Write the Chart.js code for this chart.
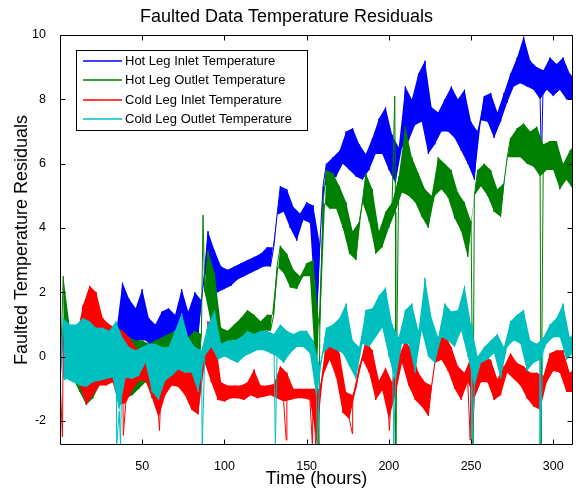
<!DOCTYPE html>
<html>
<head>
<meta charset="utf-8">
<script src="https://cdn.jsdelivr.net/npm/chart.js@4.4.1/dist/chart.umd.min.js"></script>
<style>
  body { margin: 0; background: #fff; }
  canvas { display: block; }
</style>
</head>
<body>
<canvas id="Chart" width="580" height="492"></canvas>
<script>
// sample times (hours); each sample holds the low and high edge of the noisy trace
const hours = [0, 4, 8, 12, 16, 20, 24, 28, 32, 36, 40, 44, 48, 52, 56, 60, 64, 68, 72, 76,
    80, 84, 88, 92, 96, 100, 104, 108, 112, 116, 120, 124, 128, 132, 136, 140, 144, 148, 152, 156,
    160, 164, 168, 172, 176, 180, 184, 188, 192, 196, 200, 204, 208, 212, 216, 220, 224, 228, 232, 236,
    240, 244, 248, 252, 256, 260, 264, 268, 272, 276, 280, 284, 288, 292, 296, 300, 304, 308, 312];

const hotInLo = [-0.8, -0.5, -0.6, -0.7, -0.8, -0.6, -0.5, -0.6, -0.5, -0.3,
    0.2, 0.3, 0.5, 0.5, 0.3, 0.5, 0.4, 0.6, 0.8, 0.5,
    0.6, 0.7, 2.6, 2.0, 2.0, 2.1, 2.2, 2.4, 2.5, 2.6,
    2.7, 2.8, 2.8, 4.4, 4.5, 4.0, 3.6, 4.25, 4.15, 1.0,
    5.3, 5.4, 5.6, 6.0, 5.8, 5.6, 5.5, 5.8, 6.3, 6.3,
    5.8, 5.4, 6.5, 6.7, 7.2, 7.3, 6.3, 6.6, 7.0, 7.0,
    6.8, 6.4, 6.0, 5.5, 7.35, 7.3, 6.8, 7.3, 7.9, 8.4,
    8.5, 8.4, 8.3, 8.0, 8.3, 8.1, 8.3, 8.0, 8.0];
const hotInHi = [0.9, 0.7, 0.6, 0.8, 0.9, 0.6, 0.6, 0.5, 0.7, 2.3,
    1.8, 1.5, 2.1, 1.2, 1.0, 1.4, 1.5, 1.3, 2.1, 1.4,
    2.0, 1.75, 3.9, 3.3, 2.8, 2.7, 2.8, 2.9, 3.0, 3.1,
    3.2, 3.4, 3.4, 5.3, 5.2, 4.65, 4.45, 4.8, 4.7, 3.5,
    6.0, 6.2, 6.4, 7.0, 7.1, 6.6, 6.3, 6.8, 7.4, 7.75,
    6.9, 6.5, 8.4, 8.0, 8.8, 9.2, 7.75, 7.6, 8.0, 8.4,
    8.0, 8.3, 7.3, 7.0, 8.1, 8.2, 7.6, 8.2, 8.8, 9.3,
    9.95, 9.2, 9.0, 8.9, 9.3, 9.1, 9.3, 8.8, 8.6];
const hotInSpikes = [[292.8, 6.0]];

const hotOutLo = [-0.8, -0.6, -0.7, -1.1, -1.5, -1.3, -0.9, -0.8, -0.7, -1.0,
    -1.3, -1.2, -1.0, -0.8, -1.0, -0.8, -0.7, -0.5, -0.6, -0.4,
    -0.5, -0.6, 2.0, 1.0, 0.3, 0.4, 0.5, 0.5, 0.4, 0.7,
    0.6, 0.8, 0.8, 2.8, 2.6, 2.15, 2.1, 2.5, 2.5, -0.9,
    4.8, 4.6, 4.6, 4.0, 3.2, 3.0, 4.8, 4.2, 3.2, 3.4,
    4.0, 4.5, 5.1, 5.0, 4.8, 4.35, 4.0, 5.0, 5.2, 4.95,
    4.3, 3.9, 3.1, 5.0, 5.3, 5.0, 4.5, 4.35, 6.2, 6.2,
    6.2, 6.0, 5.9, 5.6, 5.8, 5.8, 5.2, 5.5, 5.2];
const hotOutHi = [2.5, 0.9, 0.8, 0.8, 0.6, 0.6, 0.7, 0.6, 0.8, 0.8,
    0.6, 0.5, 0.5, 0.4, 0.5, 0.6, 0.7, 0.8, 0.7, 0.6,
    0.8, 0.7, 3.3, 2.6, 0.9, 0.8, 1.0, 1.2, 1.45, 1.3,
    1.1, 1.3, 1.3, 3.45, 3.2, 2.7, 2.5, 2.9, 3.0, 0.8,
    5.8, 5.7, 5.3, 4.8, 3.9, 4.2, 5.7, 5.2, 3.9, 4.5,
    4.8, 5.6, 7.15, 6.2, 5.7, 5.2, 5.0, 6.2, 6.0, 5.8,
    5.1, 4.8, 4.2, 5.8, 6.0, 5.8, 5.2, 5.4, 6.8, 7.1,
    7.25, 7.0, 7.15, 6.6, 6.7, 6.7, 6.0, 6.4, 6.65];
const hotOutSpikes = [[87, 4.4], [157.5, -2.75], [203.6, 8.1], [204.2, -2.75], [251.2, -2.75], [292.6, -2.75]];

const coldInLo = [-0.7, -0.6, -0.7, -0.9, -1.5, -1.2, -0.9, -0.9, -0.8, -1.5,
    -1.45, -1.05, -0.75, -0.75, -1.3, -1.9, -1.2, -0.9, -0.95, -1.2,
    -1.65, -1.8, -0.2, -0.8, -1.35, -1.4, -1.3, -1.3, -1.35, -1.2,
    -1.3, -1.25, -1.2, -1.3, -1.4, -1.35, -1.3, -1.3, -1.35, -2.6,
    -0.6, -0.1, -0.65, -1.75, -1.95, -1.0, -0.1, -0.5, -1.35, -1.05,
    -1.95, -1.2, -0.2, -0.9, -1.35, -1.55, -1.85, -0.2, -0.1, -0.45,
    -1.0, -1.35, -0.8, -1.3, -0.8, -0.8, -1.35, -1.2, -0.5, -0.7,
    -0.9, -1.3, -1.55, -1.65, -0.8, -0.45, -0.5, -1.1, -1.1];
const coldInHi = [1.0, 0.5, 0.6, 1.6, 2.2, 2.0, 1.2, 1.0, 0.9, 0.8,
    0.6, 0.3, 0.1, -0.1, 0.0, -0.2, 0.0, -0.1, 0.2, -0.2,
    -0.3, -0.3, 1.1, 0.7, -0.8, -0.9, -0.9, -0.9, -0.8, -0.4,
    -0.9, -0.9, -0.85, -0.3, -0.5, -1.0, -1.0, -1.0, -1.0, -1.0,
    0.5, 0.6, 0.1, -1.1, -1.2, -0.3, 0.5, 0.2, -0.75, -0.35,
    -0.8, 0.0, 0.5, 0.2, -0.5, -0.8, -0.9, 0.6, 0.7, 0.3,
    -0.3, -0.5, 0.0, -0.3, 0.0, -0.1, -0.7, -0.3, 0.1, -0.2,
    -0.3, -0.5, -0.5, -0.6, 0.1, 0.2, 0.2, -0.5, -0.35];
const coldInSpikes = [[1.5, -2.5], [38.5, -2.45], [60.5, -2.3], [137.6, -2.6], [153.5, -2.75], [155.5, -2.75],
    [177.8, -2.4], [200.3, -2.3], [249.5, -2.6], [250.5, -2.75]];

const coldOutLo = [-0.8, -0.7, -0.8, -0.9, -0.95, -0.8, -0.75, -0.7, -0.65, -1.7,
    -0.65, -0.7, -0.6, -0.2, -1.1, -1.35, -0.75, -0.6, -0.4, -0.5,
    -0.5, -1.1, 0.0, 0.3, -0.1, 0.0, -0.1, -0.2, 0.0, 0.1,
    0.2, 0.2, 0.1, 0.0, -0.2, 0.1, 0.3, 0.3, 0.1, -1.3,
    0.1, 0.3, 0.2, 0.1, -0.3, -0.7, 0.4, 0.3, 0.6, 0.9,
    0.0, -0.8, 0.4, 0.4, -0.5, 0.8, 0.0, -0.2, 0.6, 0.5,
    0.3, 0.8, 0.0, -0.95, -0.2, -0.1, 0.1, -0.7, 0.3, 0.5,
    0.4, -0.45, -0.2, -0.1, 0.4, 0.6, 0.6, -0.1, 0.1];
const coldOutHi = [1.2, 1.0, 1.0, 1.2, 1.1, 0.9, 0.9, 0.8, 1.1, 0.6,
    0.3, 0.2, 0.3, 0.4, 0.4, 0.3, 0.3, 0.8, 1.35, 0.6,
    0.3, 0.2, 1.0, 1.45, 0.4, 0.5, 0.5, 0.6, 0.8, 0.7,
    0.8, 0.8, 0.7, 1.0, 0.8, 0.7, 0.8, 0.8, 0.5, -0.3,
    0.9, 1.0, 1.2, 1.65, 0.5, 0.3, 1.45, 1.5, 1.9, 2.15,
    1.0, 0.6, 1.45, 1.65, 0.8, 2.45, 1.2, 0.6, 1.65, 1.4,
    1.45, 2.2, 1.0, 0.0, 0.3, 0.5, 0.7, 0.3, 1.1, 1.3,
    1.45, 0.5, 0.4, 0.6, 1.0, 1.2, 1.65, 0.6, 0.8];
const coldOutSpikes = [[34.5, -2.75], [36.8, -2.75], [86.5, -2.75], [131, -2.75], [156.6, -2.75],
    [203, -2.75], [250.5, -2.75], [292, -2.75]];

const seriesNames = ['Hot Leg Inlet Temperature', 'Hot Leg Outlet Temperature',
    'Cold Leg Inlet Temperature', 'Cold Leg Outlet Temperature'];
const seriesColors = ['#0000ff', '#008000', '#ff0000', '#00bfbf'];

const xTicks = [50, 100, 150, 200, 250, 300];
const yTicks = [-2, 0, 2, 4, 6, 8, 10];

const FONT = "'Liberation Sans', Arial, Helvetica, sans-serif";

// low edge sits at the sample time, high edge 2 h later
function loEdge(lo) {
    return hours.map(function (h, i) { return { x: h, y: lo[i] }; });
}
function hiEdge(hi) {
    return hours.map(function (h, i) { return { x: h + 2, y: hi[i] }; });
}
function trace(lo, hi, spikes) {
    var pts = loEdge(lo).concat(hiEdge(hi));
    spikes.forEach(function (s) { pts.push({ x: s[0], y: s[1] }); });
    return pts.sort(function (a, b) { return a.x - b.x; });
}

// per series: solid band between the edges (the dense noise), then the trace with its spikes
const datasets = [];
[[hotInLo, hotInHi, hotInSpikes], [hotOutLo, hotOutHi, hotOutSpikes],
 [coldInLo, coldInHi, coldInSpikes], [coldOutLo, coldOutHi, coldOutSpikes]].forEach(function (s, k) {
    var color = seriesColors[k];
    var ord = 20 - k * 5;   // MATLAB draws the last series on top
    var base = datasets.length;
    datasets.push({
        data: hiEdge(s[1]), borderWidth: 0, pointRadius: 0,
        backgroundColor: color, fill: base + 1, order: ord
    });
    datasets.push({
        data: loEdge(s[0]), borderWidth: 0, pointRadius: 0, fill: false, order: ord
    });
    datasets.push({
        label: seriesNames[k], data: trace(s[0], s[1], s[2]),
        borderColor: color, borderWidth: 1, borderJoinStyle: 'bevel',
        pointRadius: 0, fill: false, order: ord - 1
    });
});

// box round the axes with inward ticks on all four sides, plus the legend
const frame = {
    id: 'frame',
    afterDatasetsDraw: function (chart) {
        var ctx = chart.ctx, a = chart.chartArea;
        var x = chart.scales.x, y = chart.scales.y;
        var L = Math.round(a.left) + 0.5, R = Math.round(a.right) - 0.5;
        var T = Math.round(a.top) + 0.5, B = Math.round(a.bottom) - 0.5;
        ctx.save();
        ctx.strokeStyle = '#000';
        ctx.lineWidth = 1;
        ctx.beginPath();
        ctx.rect(L, T, R - L, B - T);
        xTicks.forEach(function (v) {
            var px = Math.round(x.getPixelForValue(v)) + 0.5;
            ctx.moveTo(px, B); ctx.lineTo(px, B - 5);
            ctx.moveTo(px, T); ctx.lineTo(px, T + 5);
        });
        yTicks.forEach(function (v) {
            var py = Math.round(y.getPixelForValue(v)) + 0.5;
            ctx.moveTo(L, py); ctx.lineTo(L + 5, py);
            ctx.moveTo(R, py); ctx.lineTo(R - 5, py);
        });
        ctx.stroke();

        var bx = 76.5, by = 50.5, bw = 231, bh = 80;
        ctx.fillStyle = '#fff';
        ctx.fillRect(bx, by, bw, bh);
        ctx.strokeRect(bx, by, bw, bh);
        ctx.font = '13px ' + FONT;
        ctx.textBaseline = 'middle';
        seriesNames.forEach(function (name, i) {
            var ry = Math.round(61 + i * 19.3);
            ctx.strokeStyle = seriesColors[i];
            ctx.lineWidth = 1.5;
            ctx.beginPath();
            ctx.moveTo(83, ry); ctx.lineTo(122, ry);
            ctx.stroke();
            ctx.fillStyle = '#000';
            ctx.fillText(name, 125, ry);
        });
        ctx.restore();
    }
};

new Chart(document.getElementById('Chart'), {
    type: 'line',
    data: { datasets: datasets },
    options: {
        responsive: false,
        animation: false,
        events: [],
        layout: { padding: { left: 0, right: 7, top: 0, bottom: 0 } },
        plugins: {
            legend: { display: false },
            tooltip: { enabled: false },
            filler: { propagate: false, drawTime: 'beforeDatasetDraw' },
            title: {
                display: true,
                text: 'Faulted Data Temperature Residuals',
                color: '#000',
                font: { family: FONT, size: 18, weight: 'normal' },
                padding: { top: 6, bottom: 7.4 }
            }
        },
        scales: {
            x: {
                type: 'linear',
                min: 0,
                max: 312,
                grid: { display: false },
                border: { display: false },
                afterBuildTicks: function (s) { s.ticks = xTicks.map(function (v) { return { value: v }; }); },
                afterFit: function (s) { s.height = 47; },
                ticks: { color: '#000', padding: 6, maxRotation: 0, font: { family: FONT, size: 12.5 } },
                title: {
                    display: true,
                    text: 'Time (hours)',
                    color: '#000',
                    font: { family: FONT, size: 18 },
                    padding: { top: 2, bottom: 2 }
                }
            },
            y: {
                min: -2.75,
                max: 10,
                grid: { display: false },
                border: { display: false },
                afterBuildTicks: function (s) { s.ticks = yTicks.map(function (v) { return { value: v }; }); },
                afterFit: function (s) { s.width = 60; },
                ticks: { color: '#000', padding: 6, font: { family: FONT, size: 12.5 } },
                title: {
                    display: true,
                    text: 'Faulted Temperature Residuals',
                    color: '#000',
                    font: { family: FONT, size: 18 },
                    padding: { top: 11, bottom: 2 }
                }
            }
        }
    },
    plugins: [frame]
});
</script>
</body>
</html>
